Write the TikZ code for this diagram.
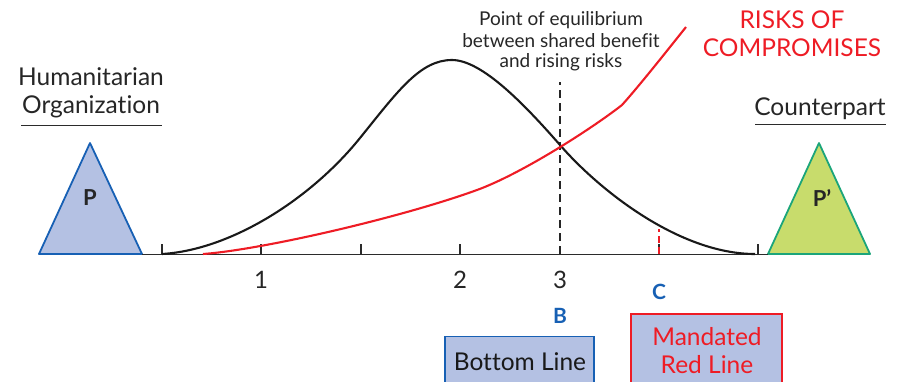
\documentclass[tikz,border=0pt]{standalone}
\usepackage{fontspec}
\setmainfont[Ligatures=NoCommon]{Lato}
\definecolor{pblue}{HTML}{1760B4}
\definecolor{lblue}{HTML}{B4C1E3}
\definecolor{rred}{HTML}{EE1C25}
\definecolor{lgreen}{HTML}{C8DC6C}
\definecolor{dgreen}{HTML}{1BA57A}
\definecolor{axgray}{HTML}{2B2B2B}
\begin{document}
\begin{tikzpicture}[x=1pt,y=-1pt,
  lbl/.style={font=\fontsize{24.5}{28}\selectfont, text=black!85, inner sep=0pt},
  eq/.style={font=\fontsize{19}{21.5}\selectfont, text=black!85, align=center, inner sep=0pt},
  ticklbl/.style={font=\fontsize{24}{26}\selectfont, text=black!85, inner sep=0pt},
  letter/.style={font=\bfseries\fontsize{21}{22}\selectfont, text=pblue, inner sep=0pt},
  plabel/.style={font=\bfseries\fontsize{22}{22}\selectfont, text=black!85, inner sep=0pt},
  tick/.style={axgray, line width=1.6pt},
  curve/.style={line width=2.1pt}
]
\useasboundingbox (0,0) rectangle (908,382);

% headers
\node[lbl, anchor=base] (hum) at (91,86) {Humanitarian};
\node[lbl, anchor=base] (org) at (91,114) {Organization};
\draw[axgray, line width=1.6pt] (21,125.5) -- (162,125.5);
\node[lbl, anchor=base] (cp) at (820,116) {Counterpart};
\draw[axgray, line width=1.6pt] (755,124.5) -- (886,124.5);

% triangles
\draw[pblue, fill=lblue, line width=1.8pt, line join=round] (90,143) -- (142,254) -- (39,254) -- cycle;
\node[plabel] (p) at (90,198) {P};
\draw[dgreen, fill=lgreen, line width=1.8pt, line join=round] (819,143) -- (870,254) -- (768,254) -- cycle;
\node[plabel] (pp) at (822,198) {P’};

% axis
\draw[axgray, line width=1.8pt] (142,254.5) -- (768,254.5);
\foreach \xx in {162,261,361,460,659,758} {
  \draw[tick] (\xx,254) -- (\xx,244);
}
\node[ticklbl, anchor=base] (t1) at (261,288) {1};
\node[ticklbl, anchor=base] (t2) at (460,288) {2};
\node[ticklbl, anchor=base] (t3) at (560,288) {3};

% dashed lines
\draw[black!85, line width=1.6pt, dash pattern=on 8pt off 5pt] (560,254) -- (560,82);
\draw[rred, line width=1.4pt, dash pattern=on 7pt off 4pt] (659,254) -- (659,229);

% bell curve
\draw[curve, black!90] (162,254) .. controls (230,250) and (310,200) .. (360,138)
  .. controls (398,91) and (420,60) .. (452,60)
  .. controls (482,60) and (525,105) .. (560,145)
  .. controls (600,191) and (680,254) .. (755,254);

% red risk curve
\draw[curve, rred, line join=round] (203,254) .. controls (260,250) and (400,218) .. (477,190)
  .. controls (520,174.4) and (590,130) .. (622,105)
  .. controls (640,85) and (670,47) .. (686,27);

% texts
\node[eq, anchor=base] (eq1) at (561,26) {Point of equilibrium};
\node[eq, anchor=base] (eq2) at (561,47.5) {between shared benefit};
\node[eq, anchor=base] (eq3) at (561,68) {and rising risks};
\node[font=\fontsize{24.5}{28}\selectfont, text=rred, inner sep=0pt, anchor=base] (risk1) at (792,29) {RISKS OF};
\node[font=\fontsize{24.5}{28}\selectfont, text=rred, inner sep=0pt, anchor=base] (risk2) at (792,57) {COMPROMISES};

% letters
\node[letter] (b) at (560,316) {B};
\node[letter] (c) at (659,292) {C};

% boxes
\draw[pblue, fill=lblue, line width=1.6pt] (445,392) rectangle (594,336.5);
\node[lbl, text=black!90, anchor=base] (bl) at (520,370) {Bottom Line};
\draw[rred, fill=lblue, line width=1.6pt] (631,392) rectangle (782,314);
\node[lbl, text=rred, anchor=base] (ml1) at (707,345) {Mandated};
\node[lbl, text=rred, anchor=base] (ml2) at (707,373) {Red Line};
\end{tikzpicture}
\end{document}
